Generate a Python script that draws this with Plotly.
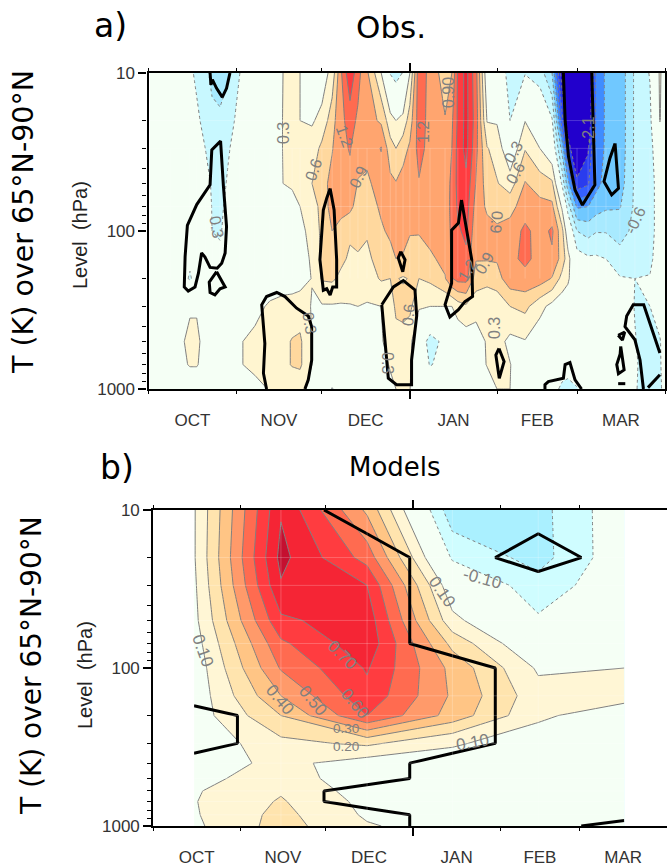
import plotly.graph_objects as go

W, H = 667, 867
# ---------- shared axis data ----------
month_names = ["OCT", "NOV", "DEC", "JAN", "FEB", "MAR"]
month_edges = [0, 31, 61, 92, 123, 151, 182]
month_mid = [15.5, 46, 76.5, 107.5, 137, 166.5]
major_levels = [10, 100, 1000]
minor_levels = [20, 30, 40, 50, 60, 70, 80, 90, 200, 300, 400, 500, 600, 700, 800, 900]

# ---------- models (lower panel) ----------
model_days = [14.5, 45.3, 75.8, 106, 136.4, 166.9]
model_levels = [10, 20, 30, 50, 70, 100, 150, 200, 300, 400, 500, 600, 700, 850, 1000]
model_oct = [.09, .09, .08, .07, .05, .03, .03, .04, .02, .04, .07, .09, .095, .09, .08]
model_nov = [.79, .83, .79, .68, .58, .51, .40, .30, .17, .13, .15, .19, .21, .23, .24]
model_dec = [.38, .56, .70, .76, .77, .71, .67, .60, .22, .05, .04, .05, .07, .085, .11]
model_jan = [-.27, -.115, .02, .13, .27, .37, .385, .36, .11, .06, .04, .03, .03, .04, .05]
model_feb = [-.235, -.24, -.16, -.085, -.02, .085, .14, .115, .055, .03, .02, .02, .02, .02, .02]
model_mar = [-.02, -.02, -.02, 0, .04, .10, .13, .05, .02, .02, .01, .01, .01, .01, .01]
# significance mask, one row per level
model_sig = [
    [1, 1, 0, 0, 0, 0], [1, 1, 1, 0, 1, 0], [1, 1, 1, 0, 0, 0], [1, 1, 1, 0, 0, 0],
    [1, 1, 1, 0, 0, 0], [1, 1, 1, 1, 0, 0], [1, 1, 1, 1, 0, 0], [0, 1, 1, 1, 0, 0],
    [0, 1, 1, 1, 0, 0], [1, 1, 1, 0, 0, 0], [1, 1, 1, 0, 0, 0], [1, 1, 0, 0, 0, 0],
    [1, 1, 0, 0, 0, 0], [1, 1, 1, 0, 0, 0], [1, 1, 1, 0, 0, 1],
]

# ---------- observations (upper panel) ----------
obs_levels = [10, 20, 30, 50, 70, 100, 150, 200, 300, 500, 700, 1000]
obs_days = [0.5, 7.6, 14.6, 17, 20, 22.4, 25.2, 28, 32.2, 37.5, 42.8, 47.4, 50.6, 53.4, 57.6, 61.1, 64.7,
            67.8, 71, 73.8, 77, 82, 85.2, 87.2, 89.7, 92.1, 95.3, 99.2, 104.5, 106.9, 109, 111.9, 115.4,
            119.3, 122.8, 127.4, 132.7, 137.9, 142.2, 145.7, 147.8, 151, 154.9, 157.7, 161.2, 166.1,
            171.4, 176.7, 180.2, 182]
obs_columns = [
    [-.1, -.1, -.1, -.05, -.05, 0, 0, 0, .05, .1, .1, .1],
    [-.15, -.1, -.1, -.05, -.05, -.05, -.05, 0, .1, .15, .15, .1],
    [-.25, -.2, -.15, -.1, -.1, -.15, -.25, -.33, .27, .36, .32, .1],
    [-.35, -.25, -.2, -.12, -.1, -.1, -.15, -.2, .27, .36, .32, .1],
    [-.5, -.38, -.3, -.2, -.15, -.15, -.1, -.1, .05, .2, .2, .05],
    [-.7, -.5, -.4, -.33, -.31, -.3, -.2, -.1, 0, .05, .05, 0],
    [-.85, -.5, -.45, -.4, -.38, -.34, -.22, -.1, 0, .05, .05, 0],
    [-.65, -.42, -.33, -.27, -.2, -.15, -.1, -.05, 0, .05, .05, 0],
    [-.3, -.2, -.15, -.1, -.1, -.05, -.05, 0, .05, .28, .28, .05],
    [-.1, -.05, -.05, 0, 0, 0, 0, 0, .2, .38, .38, .2],
    [0, .05, .05, .05, .05, .05, .05, .1, .35, .45, .45, .32],
    [.3, .31, .31, .3, .17, .12, .1, .15, .4, .52, .52, .42],
    [.36, .34, .34, .33, .22, .2, .15, .15, .42, .62, .62, .4],
    [.3, .3, .33, .37, .3, .25, .2, .18, .45, .65, .65, .4],
    [.05, .27, .42, .6, .42, .36, .33, .31, .28, .3, .3, .2],
    [.15, .38, .68, .78, .72, .68, .66, .63, .27, .18, .12, .05],
    [.4, .78, .88, 1.0, 1.02, .9, .72, .65, .27, .1, .05, -.32],
    [1.15, 1.12, 1.12, 1.05, .98, .82, .67, .53, .27, .08, -.05, -.15],
    [1.75, 1.32, 1.22, 1.12, .98, .65, .55, .5, .28, .08, .02, -.05],
    [1.3, 1.15, 1.02, .88, .78, .66, .58, .5, .3, .08, .03, 0],
    [.95, 1.02, .98, .85, .72, .63, .54, .47, .27, .05, .02, 0],
    [.3, .85, 1.22, 1.02, .96, .85, .72, .63, .3, .28, .05, .05],
    [-.32, .42, .72, .98, 1.0, .97, .78, .6, .38, .38, .36, .15],
    [-.45, .3, .6, .92, 1.05, 1.05, .9, .62, .68, .45, .42, .3],
    [-.28, .4, .78, 1.02, 1.1, 1.1, .85, .57, .72, .46, .42, .32],
    [.3, .75, .95, 1.1, 1.1, .93, .75, .62, .68, .38, .35, .31],
    [1.4, 1.35, 1.3, 1.18, 1.1, .93, .72, .6, .33, 0, -.05, -.05],
    [1.1, 1.1, 1.1, 1.1, 1.08, 1.0, .85, .66, .3, -.45, -.32, 0],
    [.75, .92, 1.0, 1.08, 1.1, 1.05, .98, .88, .3, -.2, -.2, -.28],
    [.9, 1.15, 1.2, 1.25, 1.25, 1.25, 1.24, 1.18, .3, .02, -.05, -.2],
    [1.55, 1.55, 1.6, 1.6, 1.55, 1.45, 1.4, 1.3, .45, .05, 0, -.2],
    [1.9, 1.9, 1.9, 1.72, 1.65, 1.58, 1.42, 1.3, .55, .12, .08, -.1],
    [1.3, 1.35, 1.28, 1.18, 1.08, .98, .92, .75, .42, .15, .1, 0],
    [.05, .28, .62, .76, .85, 1.0, .92, .72, .32, .33, .32, .1],
    [-.1, .27, .48, .62, .78, .95, .93, .78, .38, .42, .42, .3],
    [-.4, -.3, .02, .45, .8, 1.02, 1.12, 1.08, .6, .22, .31, .3],
    [-.32, .29, .58, .92, 1.05, 1.27, 1.27, 1.1, .68, .28, .1, .05],
    [-.45, .05, .3, .75, 1.0, 1.08, 1.1, 1.05, .4, .1, .05, -.05],
    [-.9, -.27, 0, .66, .97, 1.25, 1.15, .88, .2, .05, .02, -.1],
    [-2.3, -1.7, -1.0, -.35, .25, .7, .78, .5, .1, 0, -.05, -.4],
    [-2.8, -2.4, -1.9, -1.1, -.45, .05, .42, .35, .1, 0, -.1, -.45],
    [-3.2, -3.0, -2.6, -2.0, -1.25, -.6, -.15, 0, .05, 0, -.1, -.32],
    [-2.6, -2.45, -2.15, -1.85, -1.2, -.72, -.25, -.05, 0, -.05, -.1, -.05],
    [-1.45, -1.45, -1.4, -1.3, -1.05, -.62, -.25, -.05, 0, -.05, -.1, 0],
    [-1.15, -1.15, -1.15, -1.1, -.95, -.62, -.3, -.1, 0, -.05, -.1, 0],
    [-1.1, -1.1, -1.1, -1.05, -.92, -.75, -.45, -.28, 0, -.1, -.15, -.2],
    [-.55, -.55, -.55, -.55, -.55, -.5, -.35, -.3, -.32, -.28, -.25, -.25],
    [-.28, -.38, -.38, -.38, -.38, -.38, -.34, -.29, -.3, -.5, -.5, -.6],
    [.35, .32, -.1, -.2, -.2, -.2, -.2, -.15, -.1, -.33, -.35, -.4],
    [.1, .1, -.05, -.1, -.1, -.1, -.1, -.1, -.05, -.1, -.1, -.1],
]
# significance outlines, as (day, hPa)
obs_sig_outlines = [
    [(21.7, 10), (22.0, 11.9), (22.5, 11), (24, 12.5), (26, 14.2), (27.5, 12.5), (28.7, 10)],
    [(24.6, 27.9), (25.4, 27), (26.4, 52), (27.5, 93.8), (27, 138), (25.8, 160), (24.2, 172), (21.7, 170),
     (19.9, 146), (18.7, 138), (17.6, 185), (16.4, 226), (14, 240), (12.6, 226), (12.9, 145), (13.7, 92),
     (17, 68), (21.7, 51), (22.3, 30.7), (24.6, 27.9)],
    [(24, 181), (27, 226), (25.2, 232), (23.4, 254), (21.7, 245), (21.4, 211), (24, 181)],
    [(64, 53.8), (65.4, 73.6), (66.3, 152), (66.3, 226), (64.9, 226), (64, 254), (62.8, 232), (61.6, 237),
     (60.4, 152), (61.6, 73.6), (62.8, 62), (64, 53.8)],
    [(88.9, 135), (90.4, 152), (89.6, 181), (88, 148), (88.9, 135)],
    [(41.6, 1000), (40.5, 795), (41, 516), (39.9, 293), (41.6, 260), (45.2, 245), (48.1, 260), (52.2, 308),
     (56.3, 345), (57.5, 403), (57.5, 657), (56.3, 875), (55.1, 1000)],
    [(82.2, 293), (86.3, 226), (89.8, 206), (93.9, 236), (94.5, 345), (92.7, 657), (92.7, 940), (87.4, 940),
     (84.5, 855), (82.2, 293)],
    [(110.3, 63.7), (111.5, 85), (113.9, 152), (114.2, 260), (111.5, 280), (109.2, 315), (106.2, 350),
     (104.5, 293), (106.8, 214), (106.8, 98.7), (109.2, 89), (110.3, 63.7)],
    [(146.2, 10), (146.8, 19.8), (148, 33.8), (150.3, 55), (152.9, 68.5), (157.3, 51), (156.2, 10)],
    [(164.4, 27.9), (165.6, 53.8), (163.2, 59), (160.5, 48.7), (162.6, 34.6), (164.4, 27.9)],
    [(123.5, 554), (125.3, 670), (123.6, 855), (122.4, 610), (123.5, 554)],
    [(139.7, 1000), (139.7, 940), (140.9, 897), (146.2, 855), (146.8, 700), (148.5, 680), (150.3, 875), (152.6, 1000)],
    [(180.2, 592), (174.5, 293), (170.8, 293), (168.5, 345), (167.9, 403), (171.4, 488), (173.2, 655), (174.4, 1000)],
    [(176, 980), (180.2, 813)],
    [(165.5, 457), (167.8, 436), (167, 490), (165.5, 457)],
    [(166.4, 538), (167.6, 757), (165.6, 800), (165, 700), (166.2, 600), (166.4, 538)],
    [(165.5, 925), (168, 925)],
]

obs_colors = ["#2200CC", "#2A3CEE", "#3560FF", "#3F8CFF", "#70C8FF", "#A8EAFF", "#C8F8FF", "#F5FFF5", "#F5FFF5",
              "#FFF5D0", "#FFD89E", "#FFA56F", "#FF6B50", "#FF3C40", "#F52535"]
model_colors = ["#AAF0FF", "#CFFDFF", "#F5FFF5", "#F5FFF5", "#FFF6D5", "#FFE4AE", "#FFC585", "#FF9A6A",
                "#FF6B50", "#FF3C40", "#F52535", "#C51030"]


def stepped(cols):
    return [[i / (len(cols) - 1), c] for i, c in enumerate(cols)]


obs_z = [list(r) for r in zip(*obs_columns)]
model_z = [list(r) for r in zip(model_oct, model_nov, model_dec, model_jan, model_feb, model_mar)]

fig = go.Figure()


def add_field(x, y, z, cols, lo, hi, step, xa, ya, first_pos):
    fig.add_trace(go.Contour(x=x, y=y, z=z, xaxis=xa, yaxis=ya, showscale=False, hoverinfo="skip",
                             colorscale=stepped(cols), line=dict(width=0, smoothing=0),
                             contours=dict(coloring="fill", start=lo, end=hi, size=step)))
    fig.add_trace(go.Contour(x=x, y=y, z=z, xaxis=xa, yaxis=ya, showscale=False, hoverinfo="skip",
                             line=dict(color="#808080", width=1, smoothing=0),
                             contours=dict(coloring="none", start=first_pos, end=hi, size=step)))
    fig.add_trace(go.Contour(x=x, y=y, z=z, xaxis=xa, yaxis=ya, showscale=False, hoverinfo="skip",
                             line=dict(color="#808080", width=1, dash="dot", smoothing=0),
                             contours=dict(coloring="none", start=lo, end=-first_pos, size=step)))


def add_seams(days, across_levels, vertical_span, xa, ya, alpha):
    gx, gy = [], []
    for lev in across_levels:
        gx += [days[0], days[-1], None]
        gy += [lev, lev, None]
    for d in days:
        gx += [d, d, None]
        gy += [vertical_span[0], vertical_span[1], None]
    fig.add_trace(go.Scatter(x=gx, y=gy, mode="lines", xaxis=xa, yaxis=ya, hoverinfo="skip", showlegend=False,
                             line=dict(color=f"rgba(255,255,255,{alpha})", width=1)))


add_field(obs_days, obs_levels, obs_z, obs_colors, -2.1, 1.8, 0.3, "x", "y", 0.3)
add_seams(obs_days, [20, 30, 70], (30, 200), "x", "y", 0.2)
add_field(model_days, model_levels, model_z, model_colors, -0.2, 0.8, 0.1, "x2", "y2", 0.1)
add_seams(model_days, model_levels[1:-1], (10, 1000), "x2", "y2", 0.22)

sx, sy = [], []
for seg in obs_sig_outlines:
    sx += [p[0] for p in seg] + [None]
    sy += [p[1] for p in seg] + [None]
fig.add_trace(go.Scatter(x=sx, y=sy, mode="lines", xaxis="x", yaxis="y", hoverinfo="skip",
                         line=dict(color="black", width=3), showlegend=False))
fig.add_trace(go.Contour(x=model_days, y=model_levels, z=model_sig, xaxis="x2", yaxis="y2", showscale=False,
                         hoverinfo="skip", line=dict(color="black", width=3, smoothing=0),
                         contours=dict(coloring="none", start=0.5, end=0.5, size=1)))
for xa, ya in (("x3", "y"), ("x5", "y"), ("x7", "y"), ("x9", "y"), ("x4", "y2"), ("x6", "y2"), ("x8", "y2"), ("x10", "y2")):
    fig.add_trace(go.Scatter(x=[None], y=[None], xaxis=xa, yaxis=ya, showlegend=False, hoverinfo="skip"))

TICKFONT = dict(family="Liberation Sans", size=17, color="#333333")


def x_axes(dom, lw):
    others = [m for m in month_edges if m != 92]
    rng = [0, 182]
    common = dict(domain=dom, range=rng, showgrid=False, zeroline=False, fixedrange=True, automargin=False)
    frame = dict(common, tickmode="array", tickvals=[92], ticktext=[""], ticks="outside", ticklen=8, tickwidth=1.5,
                 tickcolor="black", showline=True, linecolor="black", linewidth=lw)
    short = dict(common, tickmode="array", tickvals=others, ticktext=[""] * len(others), ticks="outside", ticklen=4,
                 tickwidth=1.2, tickcolor="black", showline=False)
    labels = dict(common, tickmode="array", tickvals=month_mid, ticktext=month_names, ticks="outside", ticklen=16,
                  tickcolor="rgba(0,0,0,0)", tickfont=TICKFONT, showline=False)
    return frame, short, labels


def y_axis(dom, lw, mirror):
    return dict(domain=dom, type="log", range=[3, 1], autorange=False, automargin=False, tickmode="array",
                tickvals=major_levels, ticktext=[str(v) for v in major_levels], ticks="outside", ticklen=8,
                tickwidth=2, tickcolor="black", tickfont=TICKFONT, showgrid=False, zeroline=False, showline=True,
                linecolor="black", linewidth=lw, mirror=mirror, fixedrange=True,
                minor=dict(tickmode="array", tickvals=minor_levels, ticks="outside", ticklen=4, tickwidth=1,
                           tickcolor="black", showgrid=False))


def xd(a, b):
    return [a / W, b / W]


def yd(top, bot):
    return [1 - bot / H, 1 - top / H]


f1, s1, l1 = x_axes(xd(148.5, 665), 2.2)
f2, s2, l2 = x_axes(xd(153, 667), 1.6)


def ann(text, px, py, size, angle=0, color="black", family="DejaVu Sans"):
    return dict(text=text, x=px / W, y=1 - py / H, xref="paper", yref="paper", showarrow=False, textangle=angle,
                xanchor="center", yanchor="middle", font=dict(family=family, size=size, color=color))


GRAY = "#808080"
obs_labels = [
    ("0.3", 283, 133, -90), ("0.3", 216, 227, 80), ("0.6", 314, 170, -70), ("0.9", 358, 177, -65),
    ("1.2", 345, 136, 70), ("0.3", 310, 323, 80), ("0.6", 408, 315, -85), ("0.3", 388, 363, 90),
    ("1.2", 423, 132, -90), ("0.90", 449, 93, -90), ("1.2", 467, 270, -60), ("0.9", 484, 263, -60),
    ("0.9", 496, 222, 95), ("0.6", 515, 173, -60), ("0.3", 513, 152, -60), ("0.3", 495, 328, -90),
    ("-2.1", 588, 130, -90), ("-0.6", 635, 220, -65),
]
model_labels = [
    ("0.10", 203, 650, 70), ("0.40", 280, 699, 50), ("0.50", 313, 700, 50), ("0.60", 355, 703, 50),
    ("0.70", 343, 655, 45), ("0.10", 472, 742, -10), ("-0.10", 482, 578, 15), ("0.10", 442, 591, 55),
]
stacked_labels = [("0.30", 346, 728, 0), ("0.20", 346, 746, 0)]
annotations = [ann(t, x, y, 16, a, GRAY, "Liberation Sans") for t, x, y, a in obs_labels]
annotations += [ann(t, x, y, 17, a, GRAY, "Liberation Sans") for t, x, y, a in model_labels]
annotations += [ann(t, x, y, 13.5, a, GRAY, "Liberation Sans") for t, x, y, a in stacked_labels]
annotations += [
    ann("a)", 110, 25, 33), ann("Obs.", 391, 27, 31), ann("b)", 117, 467, 33), ann("Models", 395, 467, 26),
    ann("T (K) over 65°N-90°N", 24, 222, 28.5, -90), ann("T (K) over 65°N-90°N", 31, 666, 28, -90),
    ann("Level&nbsp;&nbsp;(hPa)", 80, 235, 20, -90, "#222222", "Liberation Sans"),
    ann("Level&nbsp;&nbsp;(hPa)", 85, 675, 20, -90, "#222222", "Liberation Sans"),
]

fig.update_layout(
    width=W, height=H, margin=dict(l=0, r=0, t=0, b=0), paper_bgcolor="white", plot_bgcolor="white",
    showlegend=False, annotations=annotations,
    xaxis=f1, xaxis3=dict(f1, overlaying="x", side="top", anchor="y"),
    xaxis5=dict(l1, overlaying="x", side="bottom", anchor="y"),
    xaxis7=dict(s1, overlaying="x", side="top", anchor="y"),
    xaxis9=dict(s1, overlaying="x", side="bottom", anchor="y"),
    xaxis2=dict(f2, anchor="y2"), xaxis4=dict(f2, overlaying="x2", side="top", anchor="y2"),
    xaxis6=dict(l2, overlaying="x2", side="bottom", anchor="y2"),
    xaxis8=dict(s2, overlaying="x2", side="top", anchor="y2"),
    xaxis10=dict(s2, overlaying="x2", side="bottom", anchor="y2"),
    yaxis=dict(y_axis(yd(73, 389), 2.2, "ticks"), anchor="x"),
    yaxis2=dict(y_axis(yd(510, 826), 1.6, False), anchor="x2"),
)
fig.write_html(
    "out.html",
    config=dict(displayModeBar=False, responsive=False),
    post_script="document.body.style.margin='0';document.documentElement.style.overflow='hidden';",
)
